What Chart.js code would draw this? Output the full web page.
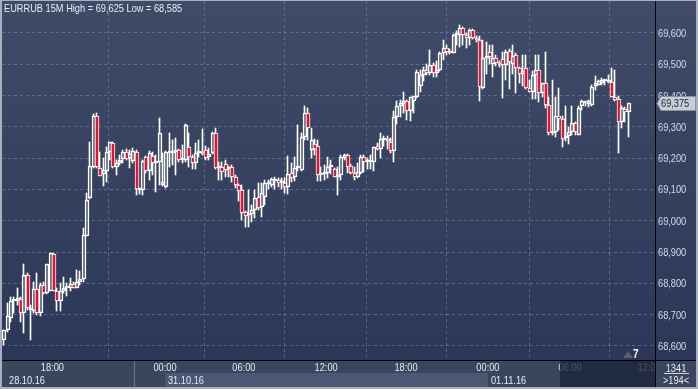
<!DOCTYPE html>
<html><head><meta charset="utf-8">
<script src="https://cdn.jsdelivr.net/npm/chart.js@4/dist/chart.umd.min.js"></script>
<style>html,body{margin:0;padding:0;background:#a8b0be;overflow:hidden}#wrap{width:698px;height:389px}</style>
</head><body><div id="wrap"><canvas id="c" width="698" height="389"></canvas></div>
<script>
const titleText = 'EURRUB 15M High = 69,625 Low = 68,585';
const opens = [68.619,68.651,68.688,68.742,68.742,68.750,68.704,68.827,68.715,68.713,68.781,68.704,68.795,68.770,68.776,68.895,68.776,68.744,68.776,68.786,68.786,68.797,68.786,68.805,68.814,68.951,69.071,69.173,69.335,69.168,69.150,69.160,69.218,69.248,69.173,69.184,69.196,69.218,69.200,69.190,69.219,69.097,69.098,69.203,69.159,69.207,69.186,69.189,69.114,69.107,69.215,69.216,69.221,69.226,69.194,69.194,69.237,69.205,69.186,69.216,69.219,69.226,69.205,69.216,69.280,69.169,69.171,69.181,69.165,69.171,69.141,69.114,69.098,69.029,69.018,69.022,69.034,69.075,69.045,69.077,69.118,69.114,69.126,69.130,69.120,69.122,69.107,69.154,69.139,69.168,69.162,69.269,69.344,69.226,69.245,69.239,69.146,69.148,69.152,69.172,69.165,69.141,69.146,69.200,69.209,69.175,69.154,69.141,69.152,69.205,69.187,69.188,69.189,69.239,69.229,69.258,69.261,69.253,69.223,69.331,69.365,69.373,69.383,69.352,69.384,69.396,69.430,69.466,69.482,69.471,69.498,69.471,69.482,69.535,69.552,69.540,69.535,69.594,69.594,69.615,69.594,69.583,69.610,69.583,69.578,69.423,69.519,69.540,69.500,69.519,69.503,69.517,69.498,69.543,69.500,69.530,69.487,69.470,69.487,69.423,69.412,69.466,69.482,69.407,69.439,69.370,69.280,69.285,69.333,69.324,69.264,69.271,69.282,69.311,69.274,69.365,69.381,69.372,69.370,69.431,69.435,69.440,69.445,69.444,69.444,69.396,69.388,69.317,69.357,69.348];
const highs = [68.651,68.736,68.757,68.757,68.784,68.757,68.862,68.832,68.731,68.805,68.834,68.800,68.805,68.861,68.896,68.896,68.784,68.800,68.821,68.800,68.816,68.805,68.843,68.838,68.976,69.088,69.253,69.341,69.345,69.221,69.200,69.237,69.253,69.253,69.194,69.210,69.226,69.229,69.226,69.232,69.226,69.104,69.194,69.207,69.222,69.221,69.210,69.327,69.217,69.224,69.280,69.258,69.263,69.229,69.242,69.309,69.280,69.210,69.248,69.258,69.292,69.240,69.232,69.283,69.295,69.189,69.189,69.195,69.175,69.178,69.145,69.118,69.114,69.032,69.098,69.050,69.098,69.120,69.120,69.130,69.130,69.135,69.140,69.138,69.138,69.138,69.207,69.186,69.205,69.306,69.280,69.367,69.360,69.296,69.262,69.258,69.173,69.178,69.205,69.195,69.168,69.173,69.210,69.212,69.212,69.180,69.173,69.185,69.210,69.210,69.200,69.210,69.237,69.248,69.280,69.270,69.270,69.265,69.349,69.381,69.386,69.412,69.386,69.396,69.400,69.482,69.482,69.490,69.500,69.545,69.503,69.510,69.540,69.578,69.560,69.550,69.596,69.605,69.625,69.620,69.600,69.613,69.613,69.590,69.590,69.578,69.570,69.560,69.560,69.530,69.510,69.540,69.545,69.550,69.560,69.535,69.490,69.530,69.530,69.450,69.478,69.530,69.530,69.440,69.540,69.396,69.450,69.396,69.423,69.333,69.365,69.301,69.365,69.315,69.365,69.386,69.383,69.386,69.434,69.463,69.450,69.455,69.450,69.466,69.487,69.482,69.398,69.368,69.362,69.376];
const lows = [68.603,68.645,68.678,68.704,68.731,68.675,68.641,68.715,68.619,68.704,68.700,68.697,68.766,68.765,68.774,68.774,68.713,68.713,68.768,68.760,68.776,68.785,68.784,68.795,68.805,68.950,69.070,69.168,69.168,69.143,69.111,69.125,69.194,69.170,69.146,69.178,69.184,69.194,69.170,69.185,69.082,69.085,69.082,69.152,69.130,69.146,69.093,69.114,69.111,69.104,69.173,69.178,69.146,69.189,69.185,69.189,69.173,69.166,69.166,69.205,69.210,69.195,69.195,69.212,69.165,69.130,69.130,69.140,69.140,69.125,69.105,69.062,69.003,68.981,68.979,68.995,69.008,69.035,69.013,69.050,69.100,69.108,69.100,69.108,69.100,69.088,69.085,69.125,69.128,69.160,69.160,69.258,69.258,69.200,69.210,69.128,69.128,69.130,69.135,69.150,69.140,69.082,69.130,69.195,69.152,69.148,69.130,69.138,69.148,69.157,69.165,69.165,69.158,69.225,69.200,69.240,69.230,69.215,69.189,69.309,69.330,69.345,69.322,69.318,69.345,69.392,69.412,69.445,69.466,69.466,69.460,69.460,69.478,69.515,69.530,69.532,69.535,69.560,69.555,69.562,69.552,69.560,69.580,69.570,69.381,69.420,69.470,69.500,69.460,69.495,69.490,69.392,69.450,69.420,69.470,69.408,69.440,69.430,69.420,69.410,69.388,69.390,69.380,69.395,69.360,69.274,69.274,69.269,69.290,69.235,69.256,69.245,69.274,69.275,69.274,69.354,69.365,69.362,69.365,69.418,69.433,69.433,69.435,69.440,69.394,69.381,69.216,69.297,69.317,69.269];
const closes = [68.651,68.694,68.742,68.747,68.752,68.704,68.827,68.720,68.720,68.781,68.704,68.795,68.770,68.861,68.896,68.776,68.744,68.776,68.786,68.790,68.797,68.786,68.805,68.814,68.955,69.066,69.175,69.335,69.173,69.143,69.162,69.218,69.250,69.173,69.184,69.194,69.218,69.196,69.212,69.224,69.101,69.099,69.191,69.159,69.216,69.186,69.190,69.280,69.124,69.221,69.222,69.222,69.227,69.194,69.200,69.306,69.205,69.186,69.216,69.219,69.214,69.200,69.212,69.280,69.168,69.172,69.157,69.162,69.170,69.139,69.114,69.096,69.024,69.016,69.022,69.034,69.072,69.040,69.088,69.120,69.123,69.132,69.130,69.122,69.124,69.107,69.150,69.136,69.168,69.172,69.267,69.343,69.296,69.258,69.229,69.146,69.152,69.154,69.171,69.175,69.141,69.146,69.202,69.209,69.173,69.152,69.141,69.157,69.205,69.189,69.191,69.191,69.235,69.229,69.261,69.262,69.256,69.224,69.331,69.365,69.376,69.383,69.352,69.394,69.398,69.476,69.466,69.482,69.471,69.498,69.471,69.482,69.535,69.552,69.540,69.535,69.594,69.600,69.615,69.594,69.583,69.610,69.583,69.578,69.428,69.519,69.524,69.524,69.519,69.503,69.498,69.498,69.540,69.508,69.525,69.487,69.470,69.478,69.423,69.412,69.466,69.482,69.407,69.440,69.370,69.280,69.285,69.333,69.325,69.260,69.268,69.282,69.311,69.285,69.359,69.381,69.376,69.384,69.428,69.439,69.446,69.450,69.447,69.450,69.396,69.386,69.317,69.359,69.348,69.375];
const yTickValues = [68.6,68.7,68.8,68.9,69.0,69.1,69.2,69.3,69.4,69.5,69.6];
const xTickIndex = [14.5,48.6,72.5,97.4,121.6,146.4,171.3,195.2];
const xTickLabels = ['18:00','00:00','06:00','12:00','18:00','00:00','06:00','12:00'];
const dateLabels = ['28.10.16','31.10.16','01.11.16'];
const dateStartIndex = [-0.75,48.6,146.4];
const sessionBreakIndex = 39.2;
const shadedFromIndex = 168.2;
const barsCountText = '1341';
const visibleText = '>194<';
const markerText = '7';

const RED = '#e3122f';
const WHITE = '#ffffff';
const FONT = "'Liberation Sans',Arial,sans-serif";
const SX = 0.84;
const N = opens.length;
const idx = opens.map((_, i) => i);
const bodies = idx.map(i => ({x: i, y: [opens[i], closes[i]]}));
const upper = idx.map(i => ({x: i, y: [Math.max(opens[i], closes[i]), highs[i]]}));
const lower = idx.map(i => ({x: i, y: [lows[i], Math.min(opens[i], closes[i])]}));
const bodyFill = idx.map(i => closes[i] < opens[i] ? RED : 'rgba(0,0,0,0)');
const fmt = v => v.toFixed(3).replace('.', ',');

function txt(ctx, s, x, y, align) {
  ctx.save(); ctx.translate(x, y); ctx.scale(SX, 1); ctx.textAlign = align; ctx.fillText(s, 0, 0); ctx.restore();
}

const deco = {
  id: 'deco',
  beforeDraw(chart) {
    const ctx = chart.ctx, x = chart.scales.x;
    ctx.save();
    ctx.fillStyle = '#a8b0be'; ctx.fillRect(0, 0, 698, 389);
    const g = ctx.createLinearGradient(0, 1, 0, 360);
    g.addColorStop(0, '#3f4b67'); g.addColorStop(1, '#2b3757');
    ctx.fillStyle = g; ctx.fillRect(2, 1, 694, 359);
    ctx.fillStyle = '#3a455e'; ctx.fillRect(2, 360, 694, 27);
    const b0 = x.getPixelForValue(dateStartIndex[1]), b1 = x.getPixelForValue(dateStartIndex[2]);
    ctx.fillStyle = '#4b5774'; ctx.fillRect(b0, 373, b1 - b0, 14);
    const sp = Math.round(x.getPixelForValue(sessionBreakIndex)) + 0.5;
    ctx.strokeStyle = '#6a7590'; ctx.lineWidth = 1;
    ctx.beginPath(); ctx.moveTo(sp, 361); ctx.lineTo(sp, 387); ctx.stroke();
    ctx.restore();
  },
  beforeDatasetsDraw(chart) {
    chart.data.datasets.forEach((ds, d) => {
      chart.getDatasetMeta(d).data.forEach(el => {
        el.x = d === 2 ? Math.round(el.x) : Math.round(el.x) - 0.5;
        el.y = Math.round(el.y); el.base = Math.round(el.base);
      });
    });
  },
  afterDraw(chart) {
    const ctx = chart.ctx, x = chart.scales.x, y = chart.scales.y;
    const ca = chart.chartArea;
    ctx.save();
    ctx.font = '11px ' + FONT; ctx.textBaseline = 'middle';
    // x tick labels
    ctx.fillStyle = '#e6ebf3';
    xTickIndex.forEach((v, k) => txt(ctx, xTickLabels[k], x.getPixelForValue(v), 368, 'center'));
    // y tick labels
    ctx.fillStyle = '#d3dcec';
    yTickValues.forEach(v => txt(ctx, fmt(v), ca.right + 3, Math.round(y.getPixelForValue(v)) + 1, 'left'));
    // shaded overlay
    const s0 = x.getPixelForValue(shadedFromIndex);
    ctx.fillStyle = 'rgba(26,34,56,0.78)';
    ctx.fillRect(s0, 361, ca.right - s0, 26);
    // date labels
    ctx.fillStyle = '#e8ecf4';
    dateLabels.forEach((d, k) => {
      const px = Math.max(x.getPixelForValue(dateStartIndex[k]), ca.left);
      txt(ctx, d, px + (k === 0 ? 7 : 3), 380.5, 'left');
    });
    // right bottom box
    ctx.fillStyle = '#3a455e'; ctx.fillRect(ca.right, 361, 696 - ca.right, 26);
    ctx.fillStyle = '#e8ecf4';
    txt(ctx, barsCountText, 676, 368.5, 'center');
    txt(ctx, visibleText, 676, 380.5, 'center');
    ctx.strokeStyle = '#d0d6e0'; ctx.lineWidth = 1;
    ctx.beginPath(); ctx.moveTo(664, 373.5); ctx.lineTo(689, 373.5); ctx.stroke();
    // black separators
    ctx.strokeStyle = '#000';
    ctx.beginPath(); ctx.moveTo(2, 360.5); ctx.lineTo(696, 360.5); ctx.stroke();
    ctx.beginPath(); ctx.moveTo(ca.right + 0.5, 1); ctx.lineTo(ca.right + 0.5, 387); ctx.stroke();
    // last price box
    const last = closes[N - 1];
    const py = Math.round(y.getPixelForValue(last)) + 0.5;
    ctx.fillStyle = '#c9ced6'; ctx.strokeStyle = '#8a92a2';
    ctx.beginPath();
    ctx.moveTo(657, py); ctx.lineTo(661, py - 7); ctx.lineTo(695.5, py - 7); ctx.lineTo(695.5, py + 7); ctx.lineTo(661, py + 7); ctx.closePath();
    ctx.fill(); ctx.stroke();
    ctx.fillStyle = '#1b2233';
    txt(ctx, fmt(last), 661, py + 0.5, 'left');
    // marker
    ctx.fillStyle = '#56607a';
    ctx.beginPath(); ctx.moveTo(623, 358); ctx.lineTo(628, 351); ctx.lineTo(633, 358); ctx.closePath(); ctx.fill();
    ctx.fillStyle = '#f0f3f8'; ctx.font = 'bold 12px ' + FONT;
    txt(ctx, markerText, 633, 354.5, 'left');
    // title
    ctx.font = '11px ' + FONT; ctx.fillStyle = '#e8edf5'; ctx.textBaseline = 'alphabetic';
    txt(ctx, titleText, 4, 12, 'left');
    ctx.restore();
  }
};

const gridColor = 'rgba(125,140,170,0.55)';
new Chart(document.getElementById('c'), {
  type: 'bar',
  data: {
    datasets: [
      {data: upper, backgroundColor: WHITE, borderWidth: 0, barThickness: 1, grouped: false},
      {data: lower, backgroundColor: WHITE, borderWidth: 0, barThickness: 1, grouped: false},
      {data: bodies, backgroundColor: bodyFill, borderColor: WHITE, borderWidth: 1, borderSkipped: false, barThickness: 4, minBarLength: 2, grouped: false}
    ]
  },
  options: {
    responsive: false, animation: false, devicePixelRatio: 1,
    layout: {padding: {left: 2, top: 1, right: 2, bottom: 2}},
    plugins: {legend: {display: false}, tooltip: {enabled: false}},
    scales: {
      x: {
        type: 'linear', min: -0.75, max: 197, offset: false, position: 'bottom',
        grid: {color: gridColor, drawTicks: false},
        border: {display: false, dash: [3, 3]},
        afterBuildTicks: s => { s.ticks = xTickIndex.map(v => ({value: v})); },
        afterFit: s => { s.height = 27; },
        ticks: {display: false}
      },
      y: {
        type: 'linear', position: 'right', min: 68.555, max: 69.702,
        grid: {color: gridColor, drawTicks: false},
        border: {display: false, dash: [3, 3]},
        afterBuildTicks: s => { s.ticks = yTickValues.map(v => ({value: v})); },
        afterFit: s => { s.width = 41; },
        ticks: {display: false}
      }
    }
  },
  plugins: [deco]
});
</script></body></html>
